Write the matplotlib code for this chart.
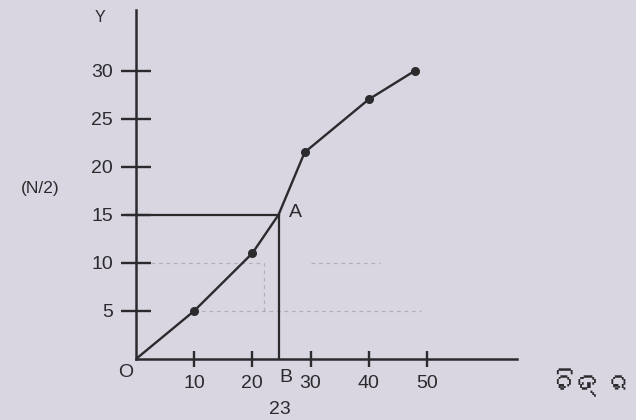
"""Ogive (less-than cumulative frequency curve) with median read-off."""

import matplotlib

matplotlib.use("Agg")

import matplotlib.pyplot as plt
from matplotlib import font_manager
from matplotlib.ft2font import FT2Font

# ---------------------------------------------------------------------------
# Data
# ---------------------------------------------------------------------------
UPPER_LIMITS = [0, 10, 20, 29, 40, 48]
CUM_FREQ = [0, 5, 11, 21.5, 27, 30]

X_TICKS = [10, 20, 30, 40, 50]
Y_TICKS = [5, 10, 15, 20, 25, 30]

MEDIAN_POS = 24.5      # where the B line sits on the drawing
MEDIAN_LABEL = "23"    # value printed under B
HALF_N = 15

# faint dashed guide lines (bleed-through on the scan)
GUIDE_H = [(10, 2.5, 22), (10, 30, 42), (5, 10, 49)]
GUIDE_V = [(22, 5, 10)]

CAPTION = "ଚିତ୍ର"

BG = "#d9d5e1"
INK = "#2b2b2e"
FONT = "Liberation Sans"
FS = 14


def _odia_font():
    for f in font_manager.fontManager.ttflist:
        try:
            if FT2Font(f.fname).get_char_index(ord(CAPTION[0])):
                return f.name
        except Exception:
            continue
    return None


fig = plt.figure(figsize=(6.36, 4.2), dpi=100)
fig.patch.set_facecolor(BG)

# axes placed so that data units map onto the scan's pixel grid
ax = fig.add_axes([136 / 636, 61 / 420, 381 / 636, 349 / 420])
ax.set_facecolor(BG)
ax.set_xlim(0, 65.5)
ax.set_ylim(0, 36.3)

for side in ("top", "right"):
    ax.spines[side].set_visible(False)
for side in ("left", "bottom"):
    ax.spines[side].set_color(INK)
    ax.spines[side].set_linewidth(1.8)

ax.set_xticks(X_TICKS)
ax.set_yticks(Y_TICKS)
ax.tick_params(axis="x", direction="inout", length=11, width=1.7, color=INK,
               pad=6, labelsize=FS, labelcolor=INK)
ax.tick_params(axis="y", direction="inout", length=21, width=1.7, color=INK,
               pad=6, labelsize=FS, labelcolor=INK)
for lab in ax.get_xticklabels() + ax.get_yticklabels():
    lab.set_fontfamily(FONT)

# faint guides
for y, x0, x1 in GUIDE_H:
    ax.plot([x0, x1], [y, y], ls=(0, (3, 3)), color="#a29eac", lw=0.9, alpha=0.7)
for x, y0, y1 in GUIDE_V:
    ax.plot([x, x], [y0, y1], ls=(0, (3, 3)), color="#a29eac", lw=0.9, alpha=0.7)

# ogive, passing through the median point A
curve_x = UPPER_LIMITS[:3] + [MEDIAN_POS] + UPPER_LIMITS[3:]
curve_y = CUM_FREQ[:3] + [HALF_N] + CUM_FREQ[3:]
ax.plot(curve_x, curve_y, color=INK, lw=1.7, solid_joinstyle="round")
ax.plot(UPPER_LIMITS[1:], CUM_FREQ[1:], ls="none", marker="o", ms=5.5,
        color=INK)

# median construction: N/2 across to A, then down to B
ax.plot([-1.6, MEDIAN_POS], [HALF_N, HALF_N], color=INK, lw=1.6, clip_on=False)
ax.plot([MEDIAN_POS, MEDIAN_POS], [0, HALF_N], color=INK, lw=1.6)

txt = dict(fontfamily=FONT, fontsize=FS, color=INK)
ax.text(MEDIAN_POS + 1.8, HALF_N + 0.2, "A", ha="left", va="center", **txt)
ax.text(MEDIAN_POS + 1.3, -1.9, "B", ha="center", va="center", **txt)
ax.text(MEDIAN_POS + 0.3, -5.3, MEDIAN_LABEL, ha="center", va="center", **txt)
ax.text(-1.8, -1.4, "O", ha="center", va="center", **txt)
ax.text(-6.2, 35.5, "Y", ha="center", va="center", fontfamily=FONT,
        fontsize=11.5, color=INK)
ax.text(-16.5, 17.7, "(N/2)", ha="center", va="center", fontfamily=FONT,
        fontsize=12.5, color=INK)

odia = _odia_font()
if odia:
    fig.text(632 / 636, 1 - 383 / 420, CAPTION, ha="right", va="center",
             fontsize=20, color=INK, family=[odia, "DejaVu Sans"])

fig.savefig("out.png", dpi=100, facecolor=BG)
